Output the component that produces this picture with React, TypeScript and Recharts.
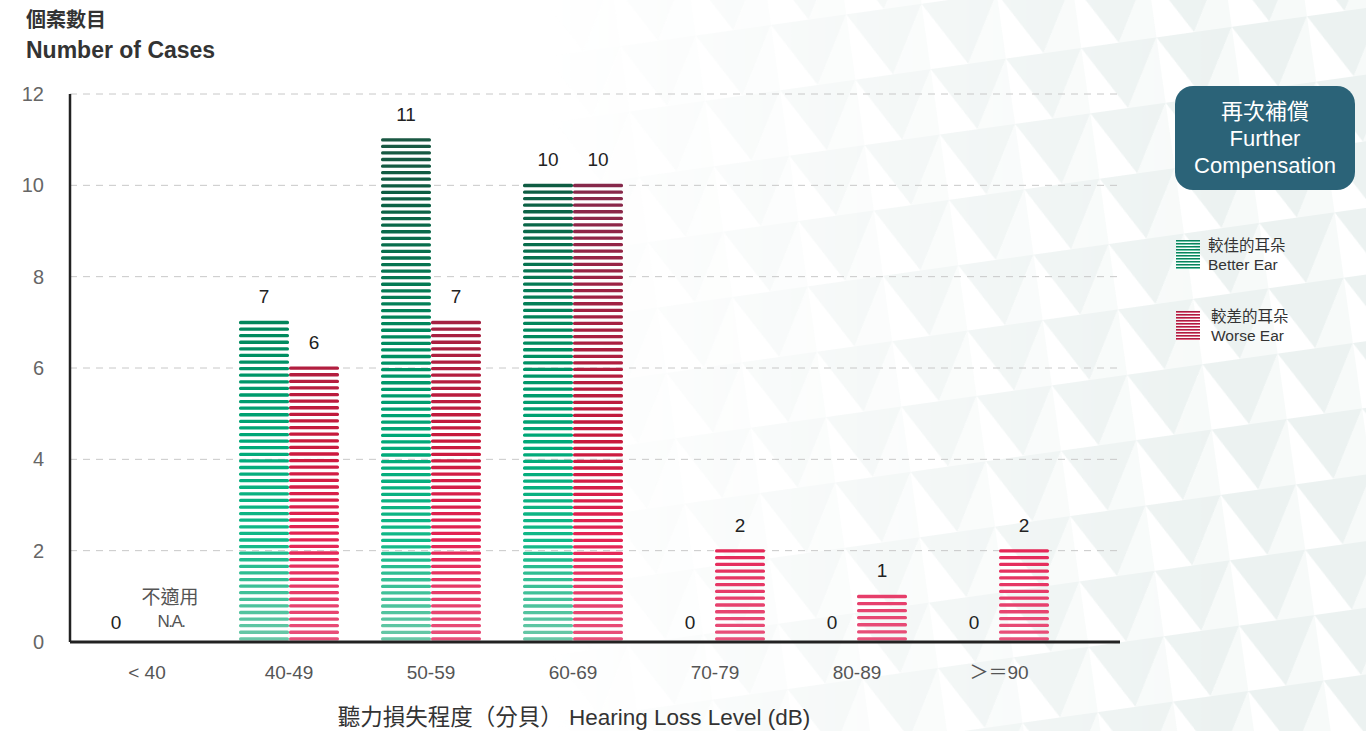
import React from 'react'
import { BarChart, Bar, XAxis, YAxis, CartesianGrid, LabelList } from 'recharts'

const categories = ['< 40', '40-49', '50-59', '60-69', '70-79', '80-89', '＞＝90']
const betterEar = [0, 7, 11, 10, 0, 0, 0]
const worseEar = [0, 6, 7, 10, 2, 1, 2]
const yTicks = [0, 2, 4, 6, 8, 10, 12]

const data = categories.map((name, i) => ({ name, better: betterEar[i], worse: worseEar[i] }))

const FONT = '"Liberation Sans", Arial, "Noto Sans CJK TC", sans-serif'

// 7 stripes per unit of value, spread from bar top down to just above the axis
function StripedBar(props: any) {
  const { x, y, width, height, gradId } = props
  if (!height || height <= 0) return null
  const n = Math.max(2, Math.round(height / 6.52))
  const thick = 3.3
  const start = y - 1.5
  const end = y + height - 1.5 - thick
  const period = (end - start) / (n - 1)
  const rects = []
  for (let i = 0; i < n; i++) {
    rects.push(
      <rect key={i} x={x} y={start + i * period} width={width} height={thick} rx={1.5} fill={`url(#${gradId})`} />
    )
  }
  return <g>{rects}</g>
}

function makeLabel(series: 'better' | 'worse') {
  return (props: any) => {
    const { x, y, width, value, index } = props
    const cx = x + width / 2
    if (series === 'worse' && index === 0) {
      return (
        <g>
          <text x={cx - 2} y={y - 38} textAnchor="middle" fontSize={19} fill="#555" fontFamily={FONT}>不適用</text>
          <text x={cx - 1} y={y - 15} textAnchor="middle" fontSize={17} fill="#555" fontFamily={FONT} letterSpacing={-1.5}>N.A.</text>
        </g>
      )
    }
    const shift = series === 'better' && index === 0 ? -6 : 0
    return (
      <text x={cx + shift} y={y - (value ? 19 : 13)} textAnchor="middle" fontSize={19} fill="#222" fontFamily={FONT}>
        {value}
      </text>
    )
  }
}

function YTick(props: any) {
  const { x, y, payload } = props
  return (
    <text x={x - 18} y={y + 7} textAnchor="end" fontSize={20} fill="#666" fontFamily={FONT}>
      {payload.value}
    </text>
  )
}

function XTick(props: any) {
  const { x, y, payload } = props
  return (
    <text x={x} y={y + 29} textAnchor="middle" fontSize={19} fill="#555" fontFamily={FONT}>
      {payload.value}
    </text>
  )
}

function LegendSwatch({ id, colors }: { id: string; colors: string[] }) {
  const lines = []
  for (let i = 0; i < 10; i++) {
    lines.push(<rect key={i} x={0} y={i * 3} width={24} height={1.8} fill={`url(#${id})`} />)
  }
  return (
    <svg width={24} height={30} style={{ display: 'block' }}>
      <defs>
        <linearGradient id={id} x1="0" y1="0" x2="0" y2="1">
          <stop offset="0%" stopColor={colors[0]} />
          <stop offset="50%" stopColor={colors[1]} />
          <stop offset="100%" stopColor={colors[2]} />
        </linearGradient>
      </defs>
      {lines}
    </svg>
  )
}

function Backdrop() {
  return (
    <svg width={1366} height={731} style={{ position: 'absolute', left: 0, top: 0 }}>
      <defs>
        <pattern id="tri" patternUnits="userSpaceOnUse" width={76} height={66} patternTransform="rotate(-8)">
          <polygon points="0,0 76,0 38,66" fill="#ecf2f1" />
          <polygon points="38,66 76,0 76,66" fill="#f7faf9" />
        </pattern>
        <linearGradient id="fade" x1="0" y1="0" x2="1" y2="0">
          <stop offset="0%" stopColor="#fff" stopOpacity={0} />
          <stop offset="40%" stopColor="#fff" stopOpacity={0} />
          <stop offset="65%" stopColor="#fff" stopOpacity={0.55} />
          <stop offset="90%" stopColor="#fff" stopOpacity={1} />
        </linearGradient>
        <mask id="fadeMask">
          <rect x={0} y={0} width={1366} height={731} fill="url(#fade)" />
        </mask>
      </defs>
      <rect x={0} y={0} width={1366} height={731} fill="url(#tri)" mask="url(#fadeMask)" />
    </svg>
  )
}

export default function App() {
  return (
    <div style={{ position: 'absolute', left: 0, top: 0, width: 1366, height: 731, background: '#fff', fontFamily: FONT }}>
      <Backdrop />
      <div style={{ position: 'absolute', left: 26, top: 6, fontWeight: 'bold', color: '#333' }}>
        <div style={{ fontSize: 20, lineHeight: '29px' }}>個案數目</div>
        <div style={{ fontSize: 23, lineHeight: '30px' }}>Number of Cases</div>
      </div>
      <div style={{ position: 'absolute', left: 0, top: 0 }}>
        <BarChart
          width={1366}
          height={731}
          data={data}
          margin={{ top: 94, right: 246, bottom: 0, left: 0 }}
          barGap={0}
          barCategoryGap={0}
        >
          <defs>
            <linearGradient id="gradBetter" gradientUnits="userSpaceOnUse" x1="0" y1="137" x2="0" y2="642">
              <stop offset="0%" stopColor="#1b5843" />
              <stop offset="10%" stopColor="#0e5c42" />
              <stop offset="40%" stopColor="#008a5e" />
              <stop offset="60%" stopColor="#00a878" />
              <stop offset="80%" stopColor="#12b888" />
              <stop offset="100%" stopColor="#6cc8a8" />
            </linearGradient>
            <linearGradient id="gradWorse" gradientUnits="userSpaceOnUse" x1="0" y1="137" x2="0" y2="642">
              <stop offset="0%" stopColor="#7a2848" />
              <stop offset="10%" stopColor="#86284a" />
              <stop offset="40%" stopColor="#a82040" />
              <stop offset="60%" stopColor="#c81a3c" />
              <stop offset="80%" stopColor="#e42454" />
              <stop offset="100%" stopColor="#e8527c" />
            </linearGradient>
          </defs>
          <CartesianGrid vertical={false} stroke="#c8c8c8" strokeDasharray="7 6" />
          <XAxis
            dataKey="name"
            height={89}
            axisLine={{ stroke: '#222', strokeWidth: 3 }}
            tickLine={false}
            tick={<XTick />}
            padding={{ left: 6, right: 50 }}
            interval={0}
          />
          <YAxis
            width={70}
            domain={[0, 12]}
            ticks={yTicks}
            axisLine={{ stroke: '#222', strokeWidth: 2.5 }}
            tickLine={false}
            tick={<YTick />}
          />
          <Bar dataKey="better" barSize={50} isAnimationActive={false} shape={(p: any) => <StripedBar {...p} gradId="gradBetter" />}>
            <LabelList dataKey="better" content={makeLabel('better')} />
          </Bar>
          <Bar dataKey="worse" barSize={50} isAnimationActive={false} shape={(p: any) => <StripedBar {...p} gradId="gradWorse" />}>
            <LabelList dataKey="worse" content={makeLabel('worse')} />
          </Bar>
          <text x={574} y={725} textAnchor="middle" fontSize={22.5} fill="#333" fontFamily={FONT}>
            聽力損失程度（分貝） Hearing Loss Level (dB)
          </text>
        </BarChart>
      </div>
      <div
        style={{
          position: 'absolute', left: 1175, top: 86, width: 180, height: 104, borderRadius: 18,
          background: '#2b6378', color: '#fff', fontSize: 22, lineHeight: '27px', textAlign: 'center',
          display: 'flex', flexDirection: 'column', justifyContent: 'center',
        }}
      >
        <div>再次補償</div>
        <div>Further</div>
        <div>Compensation</div>
      </div>
      <div style={{ position: 'absolute', left: 1176, top: 236, display: 'flex', alignItems: 'center' }}>
        <LegendSwatch id="lgBetter" colors={['#1b5843', '#00a070', '#6cc8a8']} />
        <div style={{ marginLeft: 8, fontSize: 15.5, lineHeight: '19px', color: '#333' }}>
          <div>較佳的耳朵</div>
          <div>Better Ear</div>
        </div>
      </div>
      <div style={{ position: 'absolute', left: 1176, top: 307, display: 'flex', alignItems: 'center' }}>
        <LegendSwatch id="lgWorse" colors={['#7a2848', '#c81a3c', '#e8527c']} />
        <div style={{ marginLeft: 11, fontSize: 15.5, lineHeight: '19px', color: '#333' }}>
          <div>較差的耳朵</div>
          <div>Worse Ear</div>
        </div>
      </div>
    </div>
  )
}
